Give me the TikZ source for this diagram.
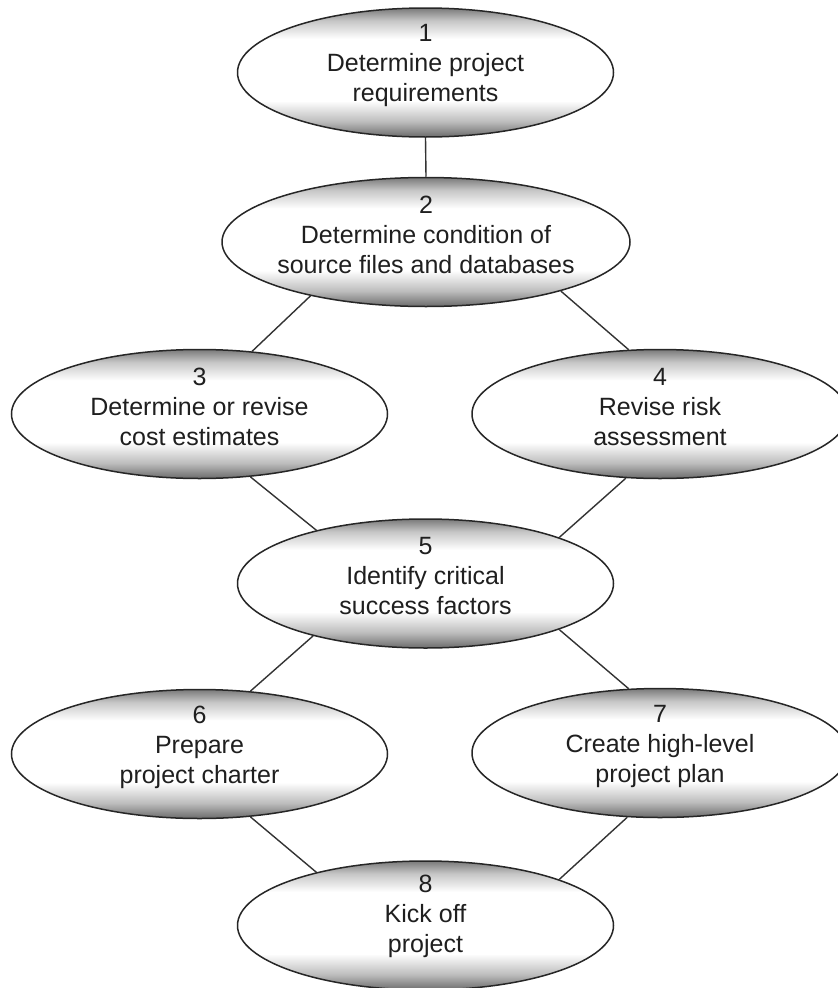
\documentclass[tikz,border=0pt]{standalone}
\usepackage{fontspec}
\setmainfont{Liberation Sans}
\usetikzlibrary{shapes.geometric}
\pgfdeclareverticalshading{ellshade}{100bp}{color(0bp)=(black!58); color(25bp)=(black!58); color(31bp)=(black!26); color(39bp)=(white); color(63bp)=(white); color(70bp)=(black!22); color(75bp)=(black!52); color(100bp)=(black!52)}
\tikzset{
  ell/.style={ellipse, draw=black!85, line width=1.5pt, shade, shading=ellshade,
    minimum width=376pt, minimum height=129pt, inner sep=0pt},
  wideell/.style={ell, minimum width=408pt},
  txt/.style={align=center, inner sep=0pt, text=black!88,
    font=\fontsize{25}{30}\selectfont},
  conn/.style={draw=black!80, line width=1.4pt}
}
\begin{document}
\begin{tikzpicture}[x=1pt,y=-1pt]
\clip (0,0) rectangle (838,988);
\node[ell]     (e1) at (425.5,72.5) {};
\node[wideell] (e2) at (426,242) {};
\node[ell]     (e3) at (199.5,414) {};
\node[ell]     (e4) at (660,414) {};
\node[ell]     (e5) at (425.5,583.5) {};
\node[ell]     (e6) at (199.5,754) {};
\node[ell]     (e7) at (660,753) {};
\node[ell]     (e8) at (425.5,925.5) {};

\node[txt] (t1) at ([yshift=7pt]e1.center) {1\\Determine project\\requirements};
\node[txt] (t2) at ([yshift=7pt]e2.center) {2\\Determine condition of\\source files and databases};
\node[txt] (t3) at ([yshift=7pt]e3.center) {3\\Determine or revise\\cost estimates};
\node[txt] (t4) at ([yshift=7pt]e4.center) {4\\Revise risk\\assessment};
\node[txt] (t5) at ([yshift=7pt]e5.center) {5\\Identify critical\\success factors};
\node[txt] (t6) at ([yshift=7pt]e6.center) {6\\Prepare\\project charter};
\node[txt] (t7) at ([yshift=7pt]e7.center) {7\\Create high-level\\project plan};
\node[txt] (t8) at ([yshift=9pt]e8.center) {8\\Kick off\\project};

\draw[conn] (e1.south) -- (e2.north);
\draw[conn] (e2.205.8) -- (e3.50.6);
\draw[conn] (e2.340.6) -- (e4.116.9);
\draw[conn] (e3.309.8) -- (e5.154.6);
\draw[conn] (e4.242.7) -- (e5.19.1);
\draw[conn] (e5.205.2) -- (e6.51.7);
\draw[conn] (e5.341.9) -- (e7.116.9);
\draw[conn] (e6.309.4) -- (e8.154.8);
\draw[conn] (e7.243.1) -- (e8.19.2);
\end{tikzpicture}
\end{document}
